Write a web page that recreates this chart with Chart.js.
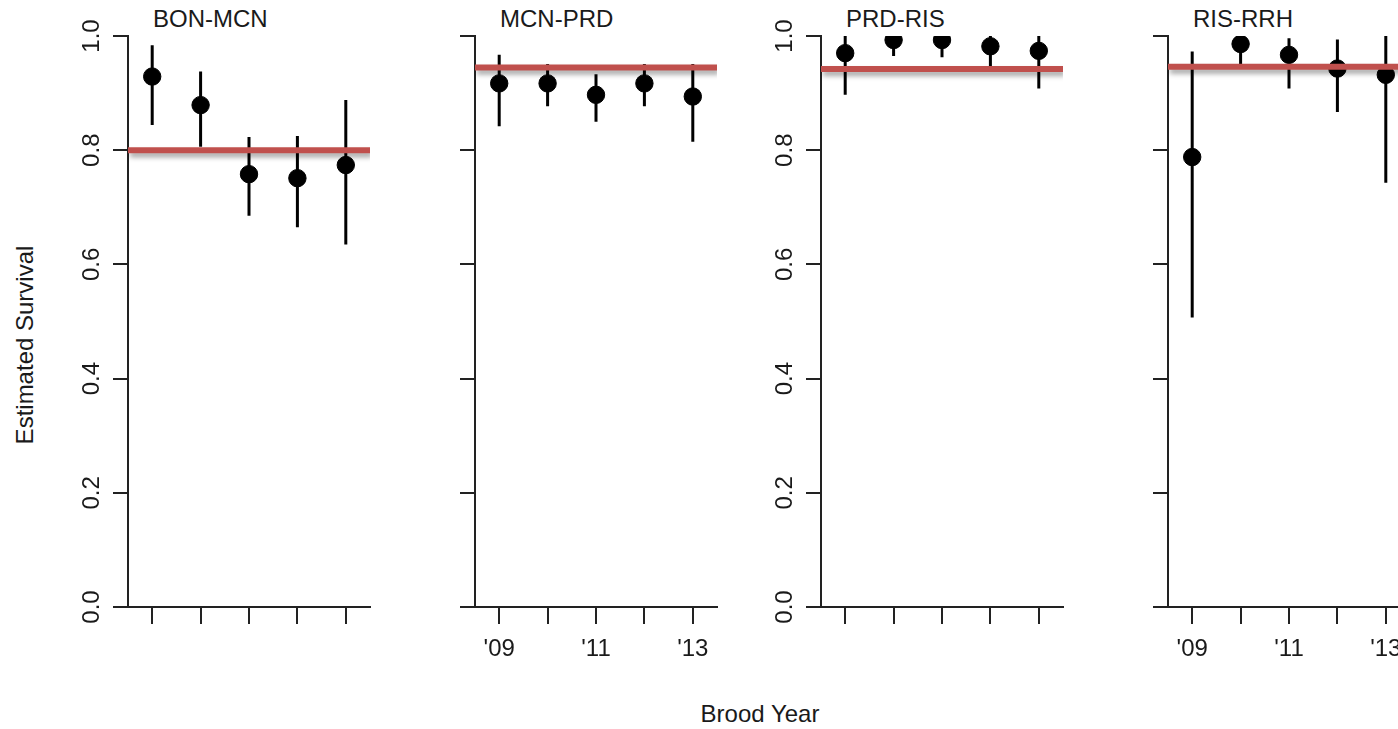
<!DOCTYPE html>
<html>
<head>
<meta charset="utf-8">
<script src="https://cdn.jsdelivr.net/npm/chart.js@4.4.1/dist/chart.umd.min.js"></script>
<style>
  body { margin: 0; width: 1398px; height: 729px; overflow: hidden; background: #fff; position: relative; }
  canvas { position: absolute; top: 0; }
  .txt { position: absolute; font-family: Arial, "Liberation Sans", sans-serif; font-size: 24px; color: #1a1a1a; white-space: nowrap; line-height: 28px; }
  .ylab { transform: translate(-50%, -50%) rotate(-90deg); }
  .xlab { transform: translate(-50%, -50%); }
</style>
</head>
<body>
<div class="txt ylab" style="left:25px; top:345px;">Estimated Survival</div>
<div class="txt xlab" style="left:760px; top:714px;">Brood Year</div>

<script>
// panels and axes
const panelNames = ["BON-MCN", "MCN-PRD", "PRD-RIS", "RIS-RRH"];
const broodYears = [1, 2, 3, 4, 5]; // 2009 .. 2013
const xTickLabels = ["'09", "", "'11", "", "'13"];
const yTicks = [0, 0.2, 0.4, 0.6, 0.8, 1.0];
const showYLabels = [true, false, true, false];
const showXLabels = [false, true, false, true];

// estimates, lower and upper limits, overall mean per reach
const bonMcnEst = [0.929, 0.879, 0.758, 0.751, 0.774];
const bonMcnLo = [0.844, 0.806, 0.685, 0.665, 0.635];
const bonMcnHi = [0.984, 0.938, 0.823, 0.825, 0.888];
const bonMcnMean = 0.8;

const mcnPrdEst = [0.917, 0.917, 0.897, 0.917, 0.894];
const mcnPrdLo = [0.842, 0.877, 0.85, 0.877, 0.815];
const mcnPrdHi = [0.967, 0.951, 0.933, 0.951, 0.951];
const mcnPrdMean = 0.945;

const prdRisEst = [0.97, 0.993, 0.993, 0.982, 0.974];
const prdRisLo = [0.897, 0.965, 0.963, 0.946, 0.908];
const prdRisHi = [1.0, 1.0, 1.0, 1.0, 1.0];
const prdRisMean = 0.942;

const risRrhEst = [0.788, 0.986, 0.967, 0.943, 0.932];
const risRrhLo = [0.507, 0.949, 0.908, 0.867, 0.743];
const risRrhHi = [0.973, 1.0, 0.996, 0.994, 1.0];
const risRrhMean = 0.946;

const estimates = [bonMcnEst, mcnPrdEst, prdRisEst, risRrhEst];
const lowers = [bonMcnLo, mcnPrdLo, prdRisLo, risRrhLo];
const uppers = [bonMcnHi, mcnPrdHi, prdRisHi, risRrhHi];
const means = [bonMcnMean, mcnPrdMean, prdRisMean, risRrhMean];

const X_MIN = 0.5;
const X_MAX = 5.5;
const axisLeft = [128, 475, 821, 1168];
const Y_AXIS_W = 80;
const AXIS_COLOR = "#222";

Chart.defaults.font.family = 'Arial, "Liberation Sans", sans-serif';
Chart.defaults.font.size = 24;
Chart.defaults.color = "#1a1a1a";

// soft shadow under the mean line
const shadowPlugin = {
  id: "meanShadow",
  beforeDatasetDraw(chart, args) {
    if (!args.meta._dataset.shadow) return;
    const ctx = chart.ctx;
    ctx.save();
    ctx.shadowColor = "rgba(0,0,0,0.35)";
    ctx.shadowBlur = 5;
    ctx.shadowOffsetX = 2;
    ctx.shadowOffsetY = 4;
  },
  afterDatasetDraw(chart, args) {
    if (!args.meta._dataset.shadow) return;
    chart.ctx.restore();
  },
};

const errorBarData = (lo, hi) => {
  const pts = [];
  broodYears.forEach((yr, i) => {
    pts.push({ x: yr, y: lo[i] });
    pts.push({ x: yr, y: hi[i] });
    pts.push({ x: yr, y: null });
  });
  return pts;
};

const drawPanel = (p) => {
  const title = document.createElement("div");
  title.className = "txt";
  title.style.left = axisLeft[p] + 25 + "px";
  title.style.top = "5px";
  title.textContent = panelNames[p];
  document.body.appendChild(title);

  const canvas = document.createElement("canvas");
  canvas.width = 342;
  canvas.height = 680;
  canvas.style.left = axisLeft[p] - Y_AXIS_W + "px";
  document.body.appendChild(canvas);

  new Chart(canvas, {
    type: "scatter",
    data: {
      datasets: [
        {
          data: [{ x: X_MIN, y: means[p] }, { x: X_MAX, y: means[p] }],
          showLine: true,
          borderColor: "#c0504d",
          borderWidth: 6,
          pointRadius: 0,
          clip: 0,
          shadow: true,
        },
        {
          data: broodYears.map((yr, i) => ({ x: yr, y: estimates[p][i] })),
          backgroundColor: "#000",
          borderColor: "#000",
          pointRadius: 8.7,
          pointHoverRadius: 8.7,
          clip: 0,
        },
        {
          data: errorBarData(lowers[p], uppers[p]),
          showLine: true,
          spanGaps: false,
          borderColor: "#000",
          borderWidth: 3,
          pointRadius: 0,
          clip: 0,
        },
      ],
    },
    options: {
      responsive: false,
      animation: false,
      events: [],
      layout: { padding: { top: 36, right: 20, left: 0, bottom: 0 } },
      plugins: { legend: { display: false }, tooltip: { enabled: false } },
      scales: {
        x: {
          type: "linear",
          min: X_MIN,
          max: X_MAX,
          afterBuildTicks: (scale) => {
            scale.ticks = broodYears.map((v) => ({ value: v }));
          },
          afterFit: (scale) => {
            scale.height = 73;
          },
          ticks: {
            autoSkip: false,
            maxRotation: 0,
            padding: 11,
            callback: (value, index) => (showXLabels[p] ? xTickLabels[index] : ""),
          },
          grid: {
            drawOnChartArea: false,
            drawTicks: true,
            tickLength: 17,
            color: AXIS_COLOR,
            lineWidth: 2,
          },
          border: { display: true, color: AXIS_COLOR, width: 2 },
        },
        y: {
          type: "linear",
          min: 0,
          max: 1,
          afterBuildTicks: (scale) => {
            scale.ticks = yTicks.map((v) => ({ value: v }));
          },
          afterFit: (scale) => {
            scale.width = Y_AXIS_W;
          },
          ticks: {
            minRotation: 90,
            maxRotation: 90,
            crossAlign: "center",
            padding: 4,
            callback: (value) => (showYLabels[p] ? value.toFixed(1) : ""),
          },
          grid: {
            drawOnChartArea: false,
            drawTicks: true,
            tickLength: 15,
            color: AXIS_COLOR,
            lineWidth: 2,
          },
          border: { display: true, color: AXIS_COLOR, width: 2 },
        },
      },
    },
    plugins: [shadowPlugin],
  });
};

panelNames.forEach((name, p) => drawPanel(p));
</script>
</body>
</html>
